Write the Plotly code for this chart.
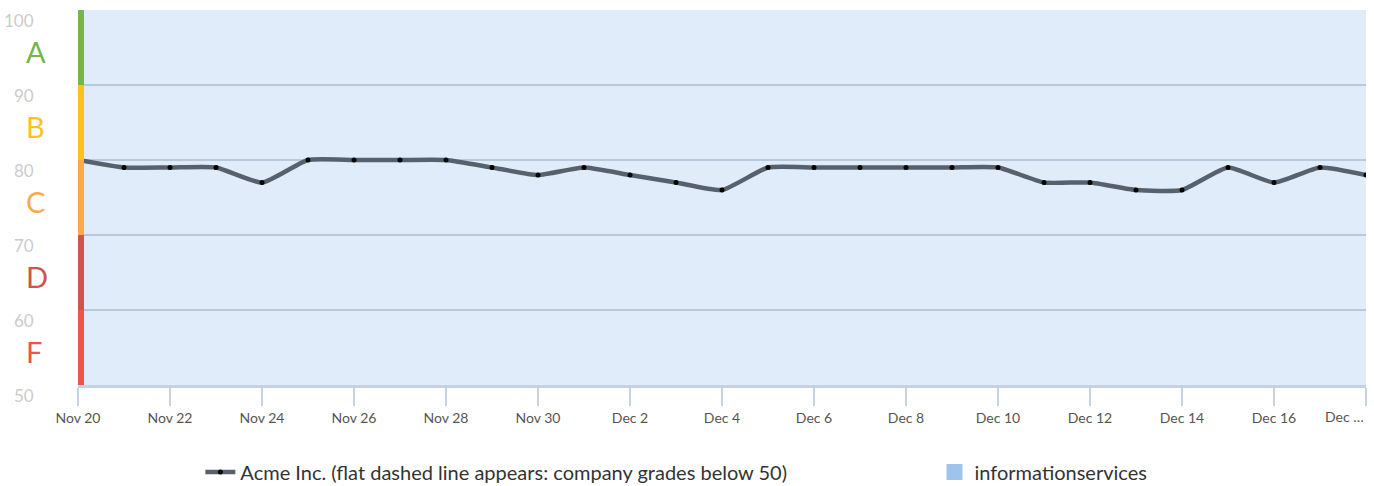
import plotly.graph_objects as go

# Daily company score
dates = ["2023-11-20", "2023-11-21", "2023-11-22", "2023-11-23", "2023-11-24",
         "2023-11-25", "2023-11-26", "2023-11-27", "2023-11-28", "2023-11-29",
         "2023-11-30", "2023-12-01", "2023-12-02", "2023-12-03", "2023-12-04",
         "2023-12-05", "2023-12-06", "2023-12-07", "2023-12-08", "2023-12-09",
         "2023-12-10", "2023-12-11", "2023-12-12", "2023-12-13", "2023-12-14",
         "2023-12-15", "2023-12-16", "2023-12-17", "2023-12-18"]
acme_scores = [80, 79, 79, 79, 77, 80, 80, 80, 80, 79,
               78, 79, 78, 77, 76, 79, 79, 79, 79, 79,
               79, 77, 77, 76, 76, 79, 77, 79, 78]
# Industry band (informationservices) spans the full scale
industry_top = [100] * len(dates)

# Axis ticks
x_tickvals = ["2023-11-20", "2023-11-22", "2023-11-24", "2023-11-26", "2023-11-28",
              "2023-11-30", "2023-12-02", "2023-12-04", "2023-12-06", "2023-12-08",
              "2023-12-10", "2023-12-12", "2023-12-14", "2023-12-16", "2023-12-18"]
x_ticktext = ["Nov 20", "Nov 22", "Nov 24", "Nov 26", "Nov 28", "Nov 30", "Dec 2",
              "Dec 4", "Dec 6", "Dec 8", "Dec 10", "Dec 12", "Dec 14", "Dec 16", "Dec …"]
y_ticks = [100, 90, 80, 70, 60, 50]

# Grade bands
grade_letters = ["A", "B", "C", "D", "F"]
grade_low = [90, 80, 70, 60, 50]
grade_high = [100, 90, 80, 70, 60]
grade_colors = ["#76b54a", "#fcc21b", "#fca84b", "#cc5649", "#ef5449"]

FONT = "Lato"
TICK_FONT = dict(family=FONT, size=14, color="#555555")

fig = go.Figure()

fig.add_trace(go.Scatter(
    x=dates, y=industry_top, mode="lines", fill="tozeroy",
    line=dict(width=0, color="rgba(158,196,236,0)"),
    fillcolor="rgba(158,196,236,0.32)", showlegend=False, hoverinfo="skip",
))

fig.add_trace(go.Scatter(
    x=dates, y=acme_scores, mode="lines+markers",
    name="Acme Inc. (flat dashed line appears: company grades below 50)",
    line=dict(color="#57616e", width=4.5, shape="spline", smoothing=0.5),
    marker=dict(color="#000000", size=5),
    legend="legend",
))

# Legend swatch for the industry band
fig.add_trace(go.Scatter(
    x=[None], y=[None], mode="markers", name="informationservices",
    marker=dict(symbol="square", size=22, color="#9ec4ec"),
    legend="legend2",
))

shapes = []
for lo, hi, col in zip(grade_low, grade_high, grade_colors):
    shapes.append(dict(
        type="rect", xref="paper", yref="y", xsizemode="pixel", xanchor=0,
        x0=0, x1=6, y0=lo, y1=hi, fillcolor=col, line=dict(width=0), layer="above",
    ))

annotations = []
for v in y_ticks:
    annotations.append(dict(
        x=0, xref="paper", y=v, yref="y", text=str(v), showarrow=False,
        xanchor="right", xshift=-42, yshift=-10,
        font=dict(family=FONT, size=17, color="#cccccc"),
    ))
for letter, lo, hi, col in zip(grade_letters, grade_low, grade_high, grade_colors):
    annotations.append(dict(
        x=0, xref="paper", y=(lo + hi) / 2, yref="y", text=letter, showarrow=False,
        xanchor="left", xshift=-54, yshift=-4,
        font=dict(family=FONT, size=29, color=col),
    ))
# The last date label is truncated and kept inside the chart edge
annotations.append(dict(
    x=x_tickvals[-1], xref="x", y=0, yref="paper", text=x_ticktext[-1],
    showarrow=False, xanchor="right", yanchor="middle", yshift=-31,
    font=TICK_FONT,
))

legend_common = dict(
    orientation="h", yanchor="middle", y=-0.232, bgcolor="rgba(0,0,0,0)",
    font=dict(family=FONT, size=20, color="#333333"),
)

fig.update_layout(
    width=1374, height=486,
    margin=dict(l=78, r=8, t=10, b=101, autoexpand=False),
    paper_bgcolor="#ffffff", plot_bgcolor="#ffffff",
    font=dict(family=FONT, color="#333333"),
    shapes=shapes, annotations=annotations,
    legend=dict(x=0.095, xanchor="left", **legend_common),
    legend2=dict(x=0.665, xanchor="left", **legend_common),
    xaxis=dict(
        type="date", range=["2023-11-20", "2023-12-18"],
        tickvals=x_tickvals, ticktext=x_ticktext[:-1] + [""],
        showgrid=False, zeroline=False,
        showline=True, linecolor="#c4d3e4", linewidth=3,
        ticks="outside", ticklen=18, tickwidth=2, tickcolor="#c4d3e4",
        tickfont=TICK_FONT,
    ),
    yaxis=dict(
        range=[50, 100], tickvals=y_ticks, showticklabels=False,
        showgrid=True, gridcolor="#c5ccd7", gridwidth=2, zeroline=False,
    ),
)

fig.write_html("out.html")
